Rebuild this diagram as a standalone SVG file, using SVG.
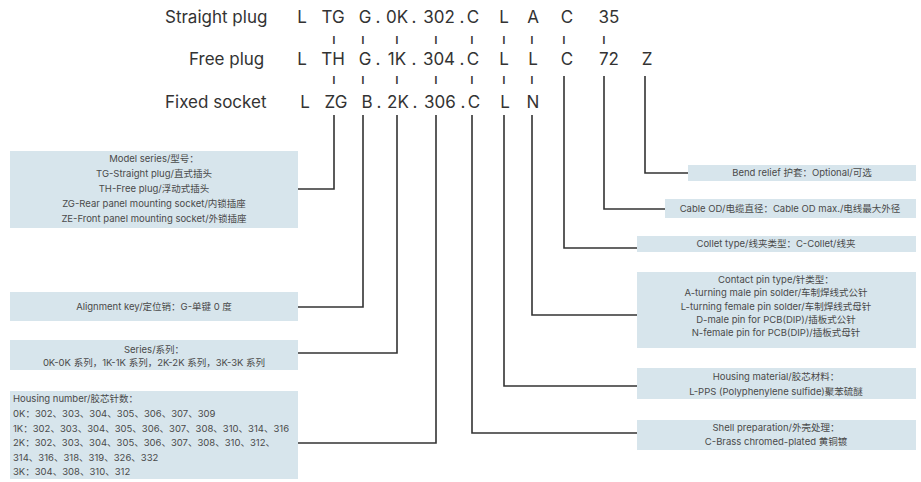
<svg xmlns="http://www.w3.org/2000/svg" width="921" height="482" viewBox="0 0 921 482">
<style>
.lbl{font-family:Inter,"Noto Sans","Noto Sans CJK SC",sans-serif;font-size:17px;fill:#333}
.code{font-family:Inter,"Noto Sans","Noto Sans CJK SC",sans-serif;font-size:17px;fill:#333;text-anchor:middle}
.tk{font-family:Inter,"Liberation Sans",sans-serif;font-size:10px;font-weight:bold;fill:#333;text-anchor:middle}
.box{fill:#d7e5ec}
.bt{font-family:Inter,"Noto Sans","Noto Sans CJK SC",sans-serif;font-size:9.5px;fill:#4a4a4a;text-anchor:middle}
.btl{font-family:Inter,"Noto Sans","Noto Sans CJK SC",sans-serif;font-size:9.5px;fill:#4a4a4a}
.conn{fill:none;stroke:#333;stroke-width:1.6}
</style>
<rect width="921" height="482" fill="#fff"/>
<g id="labels">
<text class="lbl" x="165" y="23">Straight plug</text>
<text class="lbl" x="189" y="65">Free plug</text>
<text class="lbl" x="165" y="108">Fixed socket</text>
</g>
<g id="code-row1">
<text class="code" x="302" y="23">L</text>
<text class="code" x="333" y="23">TG</text>
<text class="code" x="365" y="23">G</text>
<text class="code" x="378" y="23">.</text>
<text class="code" x="397" y="23">0K</text>
<text class="code" x="414" y="23">.</text>
<text class="code" x="439" y="23">302</text>
<text class="code" x="462" y="23">.</text>
<text class="code" x="473" y="23">C</text>
<text class="code" x="504" y="23">L</text>
<text class="code" x="533" y="23">A</text>
<text class="code" x="567" y="23">C</text>
<text class="code" x="609" y="23">35</text>
</g>
<g id="ticks-row1">
<text class="tk" x="334" y="44">I</text>
<text class="tk" x="363" y="44">I</text>
<text class="tk" x="397" y="44">I</text>
<text class="tk" x="436" y="44">I</text>
<text class="tk" x="472" y="44">I</text>
<text class="tk" x="504" y="44">I</text>
<text class="tk" x="532" y="44">I</text>
<text class="tk" x="564" y="44">I</text>
<text class="tk" x="604" y="44">I</text>
</g>
<g id="code-row2">
<text class="code" x="302" y="65">L</text>
<text class="code" x="333" y="65">TH</text>
<text class="code" x="365" y="65">G</text>
<text class="code" x="378" y="65">.</text>
<text class="code" x="397" y="65">1K</text>
<text class="code" x="414" y="65">.</text>
<text class="code" x="439" y="65">304</text>
<text class="code" x="462" y="65">.</text>
<text class="code" x="473" y="65">C</text>
<text class="code" x="504" y="65">L</text>
<text class="code" x="533" y="65">L</text>
<text class="code" x="567" y="65">C</text>
<text class="code" x="609" y="65">72</text>
<text class="code" x="647" y="65">Z</text>
</g>
<g id="ticks-row2">
<text class="tk" x="334" y="84">I</text>
<text class="tk" x="363" y="84">I</text>
<text class="tk" x="397" y="84">I</text>
<text class="tk" x="436" y="84">I</text>
<text class="tk" x="472" y="84">I</text>
<text class="tk" x="504" y="84">I</text>
<text class="tk" x="532" y="84">I</text>
</g>
<g id="code-row3">
<text class="code" x="305" y="108">L</text>
<text class="code" x="336" y="108">ZG</text>
<text class="code" x="367" y="108">B</text>
<text class="code" x="379" y="108">.</text>
<text class="code" x="398" y="108">2K</text>
<text class="code" x="415" y="108">.</text>
<text class="code" x="440" y="108">306</text>
<text class="code" x="463" y="108">.</text>
<text class="code" x="474" y="108">C</text>
<text class="code" x="505" y="108">L</text>
<text class="code" x="533" y="108">N</text>
</g>
<g id="connectors">
<path class="conn" d="M334 115V189H298"/>
<path class="conn" d="M363 115V307H298"/>
<path class="conn" d="M397 115V353H298"/>
<path class="conn" d="M436 115V443H298"/>
<path class="conn" d="M472 115V433H637"/>
<path class="conn" d="M504 115V386H637"/>
<path class="conn" d="M532 115V315H637"/>
<path class="conn" d="M564 76V248H637"/>
<path class="conn" d="M604 76V209H665"/>
<path class="conn" d="M645 76V173H688"/>
</g>
<g id="model-series">
<rect class="box" x="10" y="151" width="288" height="77"/>
<text class="bt" x="154" y="162">Model series/型号：</text>
<text class="bt" x="154" y="177">TG-Straight plug/直式插头</text>
<text class="bt" x="154" y="192">TH-Free plug/浮动式插头</text>
<text class="bt" x="154" y="207">ZG-Rear panel mounting socket/内锁插座</text>
<text class="bt" x="154" y="222">ZE-Front panel mounting socket/外锁插座</text>
</g>
<g id="alignment-key">
<rect class="box" x="10" y="292" width="288" height="29"/>
<text class="bt" x="154" y="310">Alignment key/定位销：G-单键 0 度</text>
</g>
<g id="series">
<rect class="box" x="10" y="340" width="288" height="30"/>
<text class="bt" x="154" y="353">Series/系列：</text>
<text class="bt" x="154" y="366">0K-0K 系列，1K-1K 系列，2K-2K 系列，3K-3K 系列</text>
</g>
<g id="housing-number">
<rect class="box" x="10" y="391" width="288" height="88"/>
<text class="btl" x="13" y="402">Housing number/胶芯针数：</text>
<text class="btl" x="13" y="417">0K：302、303、304、305、306、307、309</text>
<text class="btl" x="13" y="432">1K：302、303、304、305、306、307、308、310、314、316</text>
<text class="btl" x="13" y="446">2K：302、303、304、305、306、307、308、310、312、</text>
<text class="btl" x="13" y="461">314、316、318、319、326、332</text>
<text class="btl" x="13" y="475">3K：304、308、310、312</text>
</g>
<g id="bend-relief">
<rect class="box" x="688" y="165" width="228" height="16"/>
<text class="bt" x="802" y="176">Bend relief 护套：Optional/可选</text>
</g>
<g id="cable-od">
<rect class="box" x="665" y="199" width="251" height="19"/>
<text class="bt" x="790" y="212">Cable OD/电缆直径：Cable OD max./电线最大外径</text>
</g>
<g id="collet-type">
<rect class="box" x="637" y="236" width="279" height="16"/>
<text class="bt" x="776" y="247">Collet type/线夹类型：C-Collet/线夹</text>
</g>
<g id="contact-pin">
<rect class="box" x="637" y="272" width="279" height="76"/>
<text class="bt" x="776" y="283">Contact pin type/针类型：</text>
<text class="bt" x="776" y="296">A-turning male pin solder/车制焊线式公针</text>
<text class="bt" x="776" y="310">L-turning female pin solder/车制焊线式母针</text>
<text class="bt" x="776" y="323">D-male pin for PCB(DIP)/插板式公针</text>
<text class="bt" x="776" y="336">N-female pin for PCB(DIP)/插板式母针</text>
</g>
<g id="housing-material">
<rect class="box" x="637" y="368" width="279" height="31"/>
<text class="bt" x="776" y="380">Housing material/胶芯材料：</text>
<text class="bt" x="776" y="395">L-PPS (Polyphenylene sulfide)聚苯硫醚</text>
</g>
<g id="shell-preparation">
<rect class="box" x="637" y="420" width="279" height="30"/>
<text class="bt" x="776" y="431">Shell preparation/外壳处理：</text>
<text class="bt" x="776" y="445">C-Brass chromed-plated 黄铜镀</text>
</g>
</svg>
